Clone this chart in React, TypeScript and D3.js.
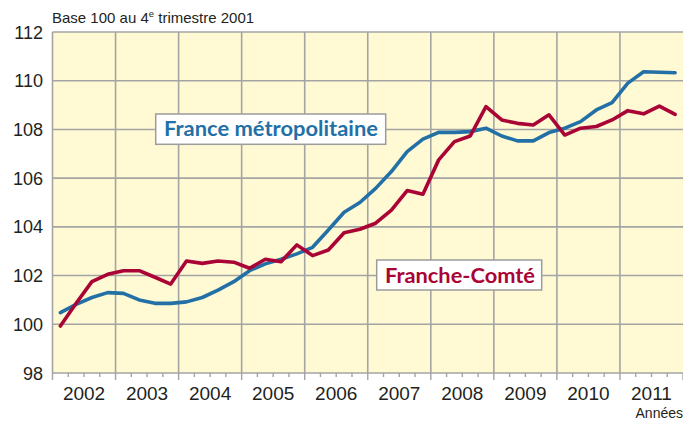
import React from "react";
import * as d3 from "d3";

const years = [2002, 2003, 2004, 2005, 2006, 2007, 2008, 2009, 2010, 2011];
const yTicks = [98, 100, 102, 104, 106, 108, 110, 112];
const france = [100.48, 100.82, 101.1, 101.3, 101.27, 101.0, 100.86, 100.86, 100.92, 101.1, 101.4, 101.75, 102.2, 102.48, 102.67, 102.89, 103.16, 103.87, 104.6, 105.0, 105.58, 106.27, 107.09, 107.6, 107.88, 107.88, 107.91, 108.05, 107.73, 107.53, 107.53, 107.87, 108.05, 108.32, 108.8, 109.1, 109.9, 110.37, 110.35, 110.33];
const comte = [99.93, 100.86, 101.75, 102.05, 102.2, 102.2, 101.93, 101.65, 102.6, 102.5, 102.6, 102.55, 102.3, 102.67, 102.57, 103.26, 102.82, 103.05, 103.76, 103.9, 104.15, 104.69, 105.49, 105.34, 106.75, 107.5, 107.73, 108.94, 108.39, 108.25, 108.18, 108.6, 107.77, 108.05, 108.12, 108.39, 108.77, 108.64, 108.96, 108.62];
const labelFrance = "France métropolitaine";
const labelComte = "Franche-Comté";

const W = 683, H = 422;
const L = 52.5, R = 683, T = 32, B = 373;
const BLUE = "#2370a6";
const RED = "#aa0436";
const GRID = "#a4a4a4";
const FONT = "'Liberation Sans', Arial, sans-serif";

export default function App() {
  const x = d3.scaleLinear().domain([2002, 2012]).range([L, R]);
  const y = d3.scaleLinear().domain([98, 112]).range([B, T]);
  const qx = (i: number) => x(2002 + (i + 0.5) / 4);
  const line = d3.line<number>().x((_, i) => qx(i)).y((d) => y(d));
  const quarters = d3.range(0, 41).map((k) => 2002 + k / 4);

  return (
    <svg width={W} height={H} style={{ position: "absolute", left: 0, top: 0 }}>
      <rect x={0} y={0} width={W} height={H} fill="#ffffff" />
      <rect x={L} y={T} width={R - L} height={B - T} fill="#fffad3" />
      {yTicks.map((t) => (
        <line key={"h" + t} x1={L} x2={R} y1={y(t)} y2={y(t)} stroke={GRID} strokeWidth={1.6} />
      ))}
      {years.map((yr) => (
        <line key={"v" + yr} x1={x(yr)} x2={x(yr)} y1={T} y2={B} stroke={GRID} strokeWidth={1.6} />
      ))}
      {quarters.map((q, k) => (
        <line key={"q" + k} x1={x(q)} x2={x(q)} y1={B} y2={B + (k % 4 === 0 ? 7 : 4)} stroke={GRID} strokeWidth={1.4} />
      ))}
      {yTicks.map((t) => (
        <text key={"yl" + t} x={43} y={y(t) + 6.5} textAnchor="end" fontFamily={FONT} fontSize={18} fill="#231f20">
          {t}
        </text>
      ))}
      {years.map((yr) => (
        <text key={"xl" + yr} x={x(yr + 0.5)} y={400} textAnchor="middle" fontFamily={FONT} fontSize={19} fill="#231f20">
          {yr}
        </text>
      ))}
      <text x={683} y={418} textAnchor="end" fontFamily={FONT} fontSize={14} fill="#231f20">Années</text>
      <text x={52} y={23} fontFamily={FONT} fontSize={15} fill="#231f20">
        Base 100 au 4<tspan fontSize={9.5} dy={-6}>e</tspan><tspan dy={6}> trimestre 2001</tspan>
      </text>
      <path d={line(france) || ""} fill="none" stroke={BLUE} strokeWidth={3.6} strokeLinejoin="round" strokeLinecap="round" />
      <path d={line(comte) || ""} fill="none" stroke={RED} strokeWidth={3.6} strokeLinejoin="round" strokeLinecap="round" />
      <rect x={155.7} y={114} width={230} height={30.3} fill="#ffffff" stroke="#9c9c9c" strokeWidth={1.5} />
      <text x={164} y={136} fontFamily="Lato, 'Open Sans', sans-serif" fontWeight={700} fontSize={20} fill={BLUE} textLength={214} lengthAdjust="spacingAndGlyphs">
        {labelFrance}
      </text>
      <rect x={376.7} y={260} width={165} height={30} fill="#ffffff" stroke="#9c9c9c" strokeWidth={1.5} />
      <text x={385} y={283} fontFamily="Lato, 'Open Sans', sans-serif" fontWeight={700} fontSize={20} fill={RED} textLength={150} lengthAdjust="spacingAndGlyphs">
        {labelComte}
      </text>
    </svg>
  );
}
